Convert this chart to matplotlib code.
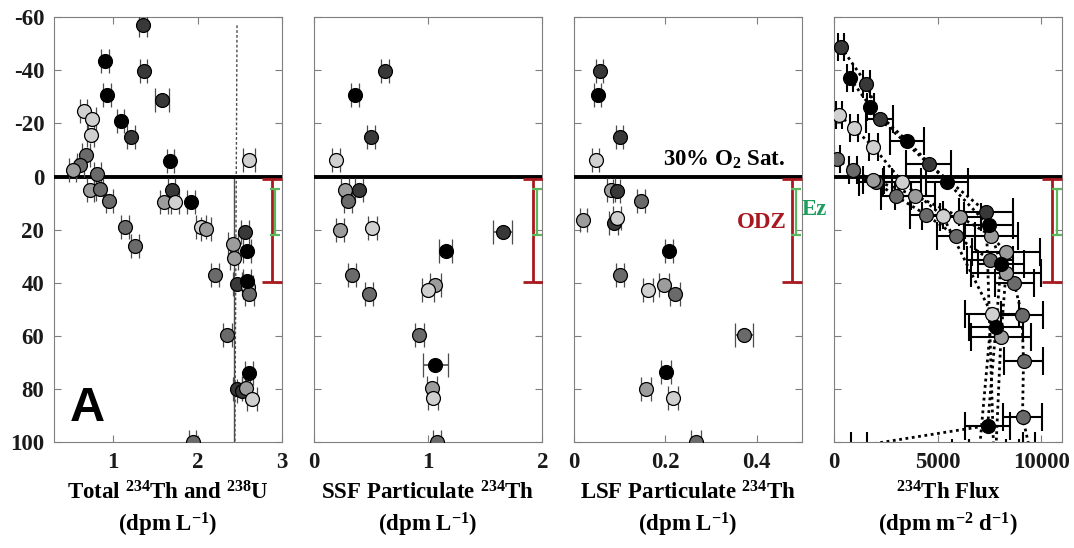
"""Depth profiles of 234Th activity and flux relative to the 30% O2 saturation depth."""

import matplotlib
matplotlib.use("Agg")
import matplotlib.pyplot as plt

plt.rcParams.update({
    "font.family": "Liberation Serif",
    "font.weight": "bold",
    "axes.labelweight": "bold",
    "mathtext.fontset": "custom",
    "mathtext.rm": "Liberation Serif:bold",
    "mathtext.it": "Liberation Serif:bold",
    "mathtext.bf": "Liberation Serif:bold",
    "axes.unicode_minus": False,
})

# ── Station shading ─────────────────────────────────────────────────
SHADES = {
    "k": "#000000",
    "d": "#383838",
    "g": "#6a6a6a",
    "m": "#9c9c9c",
    "l": "#d0d0d0",
}
RED = "#a8191f"
GREEN = "#5cb85c"
EZ_GREEN = "#1e9e5e"

# ── Total 234Th (dpm/L) ─────────────────────────────────────────────
TOTAL_X = [1.35, 0.90, 1.36, 0.93, 1.58, 0.65, 0.75, 1.09, 0.735, 1.21,
           0.676, 0.61, 0.52, 1.676, 2.61, 0.81, 0.73, 0.84, 1.69, 0.955,
           1.60, 1.73, 1.92, 1.14, 2.04, 2.10, 2.56, 1.26, 2.42, 2.58,
           2.43, 2.206, 2.47, 2.59, 2.61, 2.58, 2.35, 2.606, 2.47, 2.52,
           2.57, 2.64, 1.94]
TOTAL_Z = [-57.1, -43.4, -39.6, -30.6, -28.9, -24.6, -21.6, -20.8, -15.7, -14.9,
           -8.3, -4.3, -2.6, -6.0, -6.3, -0.9, 5.2, 4.5, 5.2, 9.3,
           9.7, 9.5, 9.4, 18.9, 19.1, 19.8, 20.8, 26.2, 25.5, 28.1,
           30.6, 37.0, 40.3, 41.7, 44.4, 39.4, 59.7, 73.9, 79.9, 80.6,
           79.8, 83.7, 100.0]
TOTAL_ERR = [0.045, 0.045, 0.045, 0.045, 0.085, 0.045, 0.045, 0.04, 0.04, 0.045,
             0.045, 0.04, 0.04, 0.045, 0.07, 0.04, 0.045, 0.045, 0.045, 0.045,
             0.05, 0.05, 0.045, 0.045, 0.06, 0.06, 0.05, 0.045, 0.06, 0.045,
             0.05, 0.05, 0.05, 0.06, 0.05, 0.05, 0.05, 0.045, 0.05, 0.05,
             0.05, 0.06, 0.045]
TOTAL_SHADE = list("dkdkdllkldggmklgmgdgmlkglmdgmkmgdlgkgkddmlg")

# ── SSF particulate 234Th (dpm/L) ───────────────────────────────────
SSF_X = [0.623, 0.363, 0.497, 0.193, 0.272, 0.395, 0.295, 0.225, 0.509, 1.652,
         1.155, 0.336, 1.064, 1.00, 0.485, 0.921, 1.064, 1.035, 1.041, 1.076]
SSF_Z = [-39.6, -30.8, -14.9, -6.4, 5.0, 5.2, 9.3, 20.1, 19.2, 20.8,
         28.1, 37.0, 40.8, 42.8, 44.3, 59.6, 71.0, 79.7, 83.5, 100.0]
SSF_ERR = [0.035, 0.035, 0.035, 0.035, 0.035, 0.035, 0.035, 0.035, 0.04, 0.086,
           0.058, 0.035, 0.05, 0.05, 0.035, 0.04, 0.11, 0.045, 0.045, 0.035]
SSF_SHADE = list("dkdlmdgmldkgmlggkmlg")

# ── LSF particulate 234Th (dpm/L) ───────────────────────────────────
LSF_X = [0.0563, 0.052, 0.100, 0.0476, 0.081, 0.0935, 0.147, 0.0206, 0.0865, 0.0935,
         0.2075, 0.100, 0.197, 0.161, 0.222, 0.372, 0.2017, 0.1586, 0.217, 0.2666]
LSF_Z = [-39.6, -30.8, -14.9, -6.4, 5.0, 5.3, 9.3, 16.5, 17.6, 15.7,
         28.1, 37.0, 41.0, 42.8, 44.3, 59.6, 73.7, 79.9, 83.5, 100.0]
LSF_ERR = [0.008, 0.008, 0.008, 0.008, 0.008, 0.008, 0.009, 0.008, 0.009, 0.009,
           0.009, 0.009, 0.011, 0.011, 0.011, 0.019, 0.011, 0.011, 0.011, 0.011]
LSF_SHADE = list("dkdlmdgmdlkgmlggkmlg")

# ── 234Th flux profiles (dpm m-2 d-1), one per station ──────────────
FLUX_DARK_X = [336, 1568, 2208, 4560, 7328, 7700]
FLUX_DARK_Z = [-48.9, -34.9, -21.7, -4.8, 13.2, 104.0]
FLUX_DARK_ERR = [150, 180, 640, 1100, 1280, 1200]

FLUX_BLACK_X = [768, 1760, 3520, 5440, 7456, 8048, 7808, 7408, 1200]
FLUX_BLACK_Z = [-37.0, -26.4, -13.5, 1.9, 18.4, 32.9, 56.7, 93.8, 101.5]
FLUX_BLACK_ERR = [150, 180, 800, 1000, 1150, 1100, 1300, 1100, 400]

FLUX_LIGHT_X = [256, 960, 1888, 3280, 5248, 7600, 7000]
FLUX_LIGHT_Z = [-23.2, -18.2, -11.3, 1.9, 14.9, 51.7, 104.0]
FLUX_LIGHT_ERR = [150, 180, 220, 900, 1000, 1300, 1300]

FLUX_GRAY_X = [128, 928, 2016, 3008, 4448, 5888, 7536, 8688, 9056, 9136, 9088, 9400]
FLUX_GRAY_Z = [-6.7, -2.5, 2.1, 7.5, 14.4, 22.5, 31.4, 40.2, 52.0, 69.3, 90.4, 101.5]
FLUX_GRAY_ERR = [150, 180, 800, 720, 800, 900, 1100, 940, 1000, 960, 960, 300]

FLUX_MID_X = [1900, 3920, 6096, 7568, 8288, 8288, 8048, 7800]
FLUX_MID_Z = [1.2, 7.2, 15.3, 22.2, 28.5, 36.4, 60.5, 104.0]
FLUX_MID_ERR = [500, 960, 1000, 1300, 1640, 1700, 1450, 1300]

FLUX_PROFILES = [
    (FLUX_GRAY_X, FLUX_GRAY_Z, FLUX_GRAY_ERR, "g"),
    (FLUX_MID_X, FLUX_MID_Z, FLUX_MID_ERR, "m"),
    (FLUX_LIGHT_X, FLUX_LIGHT_Z, FLUX_LIGHT_ERR, "l"),
    (FLUX_DARK_X, FLUX_DARK_Z, FLUX_DARK_ERR, "d"),
    (FLUX_BLACK_X, FLUX_BLACK_Z, FLUX_BLACK_ERR, "k"),
]

# ── Reference layers (depth relative to 30% O2 sat.) ───────────────
ODZ_TOP, ODZ_BOT = 0.8, 39.8
EZ_TOP, EZ_BOT = 4.6, 22.0

# x position of the ODZ / Ez brackets in each panel
ODZ_XPOS = [2.876, 1.92, 0.4775, 10510]
EZ_XPOS = [2.92, 1.958, 0.487, 10730]

XLIMS = [(0.3, 3), (0, 2), (0, 0.5), (0, 11000)]
XTICKS = [[1, 2, 3], [0, 1, 2], [0, 0.2, 0.4], [0, 5000, 10000]]
XTICKLABELS = [["1", "2", "3"], ["0", "1", "2"], ["0", "0.2", "0.4"],
               ["0", "5000", "10000"]]
XLABELS = [
    "Total $^{234}$Th and $^{238}$U\n(dpm L$^{-1}$)",
    "SSF Particulate $^{234}$Th\n(dpm L$^{-1}$)",
    "LSF Particulate $^{234}$Th\n(dpm L$^{-1}$)",
    "$^{234}$Th Flux\n(dpm m$^{-2}$ d$^{-1}$)",
]
YTICKS = [-60, -40, -20, 0, 20, 40, 60, 80, 100]

AX_LEFT = [0.0503, 0.2924, 0.5345, 0.7765]
AX_WIDTH = 0.2125
AX_BOTTOM = 0.1934
AX_HEIGHT = 0.775

SPINE = "#7f7f7f"
MS = 10


def style_axis(ax, i):
    ax.set_xlim(*XLIMS[i])
    ax.set_ylim(100, -60)
    ax.set_xticks(XTICKS[i])
    ax.set_xticklabels(XTICKLABELS[i])
    ax.set_yticks(YTICKS)
    if i > 0:
        ax.set_yticklabels([])
    ax.tick_params(direction="in", top=True, right=True, length=5,
                   width=0.8, color=SPINE, labelsize=16.5, pad=7,
                   labelcolor="#1a1a1a")
    for sp in ax.spines.values():
        sp.set_color(SPINE)
        sp.set_linewidth(0.8)
    ax.set_xlabel(XLABELS[i], fontsize=16.5, labelpad=6, linespacing=1.3)


def plot_points(ax, xs, zs, errs, shades):
    for x, z, e, s in zip(xs, zs, errs, shades):
        ax.errorbar(x, z, xerr=e, fmt="o", ms=MS, mfc=SHADES[s], mec="k",
                    mew=0.9, ecolor="#4d4d4d", elinewidth=1.2, capsize=8.5,
                    capthick=1.2, zorder=3)


def plot_flux(ax):
    for xs, zs, errs, s in FLUX_PROFILES:
        ax.plot(xs, zs, linestyle=(0, (1, 1.3)), color="k", lw=2.0, zorder=2)
        ax.errorbar(xs, zs, xerr=errs, fmt="none", ecolor="k",
                    elinewidth=1.5, capsize=10, capthick=1.5, zorder=2.5)
        shown = [(x, z) for x, z in zip(xs, zs) if z <= 100]
        ax.plot([p[0] for p in shown], [p[1] for p in shown], "o", ms=MS,
                mfc=SHADES[s], mec="k", mew=0.9, zorder=3)


def draw_layers(ax, i):
    ax.errorbar(ODZ_XPOS[i], (ODZ_TOP + ODZ_BOT) / 2,
                yerr=(ODZ_BOT - ODZ_TOP) / 2, fmt="none", ecolor=RED,
                elinewidth=2.0, capsize=7, capthick=2.0, zorder=4)
    ax.errorbar(EZ_XPOS[i], (EZ_TOP + EZ_BOT) / 2,
                yerr=(EZ_BOT - EZ_TOP) / 2, fmt="none", ecolor=GREEN,
                elinewidth=1.6, capsize=3.5, capthick=1.6, zorder=4)
    ax.axhline(0, color="k", lw=2.8, zorder=2.8)


def main():
    fig = plt.figure(figsize=(10.74, 5.48), dpi=100)
    axes = [fig.add_axes([l, AX_BOTTOM, AX_WIDTH, AX_HEIGHT]) for l in AX_LEFT]

    for i, ax in enumerate(axes):
        style_axis(ax, i)
        draw_layers(ax, i)

    ax1, ax2, ax3, ax4 = axes

    # 238U from salinity: dashed over the whole profile, solid below 0
    ax1.plot([2.465, 2.44], [-57, 100], linestyle=(0, (2, 1.5)),
             color="#4d4d4d", lw=1.0, zorder=1.5)
    ax1.plot([2.43, 2.43], [0, 100], color="#4d4d4d", lw=1.0, zorder=1.5)

    plot_points(ax1, TOTAL_X, TOTAL_Z, TOTAL_ERR, TOTAL_SHADE)
    plot_points(ax2, SSF_X, SSF_Z, SSF_ERR, SSF_SHADE)
    plot_points(ax3, LSF_X, LSF_Z, LSF_ERR, LSF_SHADE)
    plot_flux(ax4)

    ax1.text(0.69, 87.3, "A", fontsize=35, fontweight="bold",
             family="Liberation Sans", ha="center", va="center")
    ax3.text(0.4638, -6.2, "30% O$_2$ Sat.", fontsize=16.5, ha="right",
             va="center", zorder=5)
    ax3.text(0.411, 17.2, "ODZ", fontsize=16.5, color=RED, ha="center",
             va="center", zorder=5)
    ax3.text(0.527, 12.4, "Ez", fontsize=16.5, color=EZ_GREEN, ha="center",
             va="center", clip_on=False, zorder=5)

    fig.savefig("out.png", dpi=100)


if __name__ == "__main__":
    main()
